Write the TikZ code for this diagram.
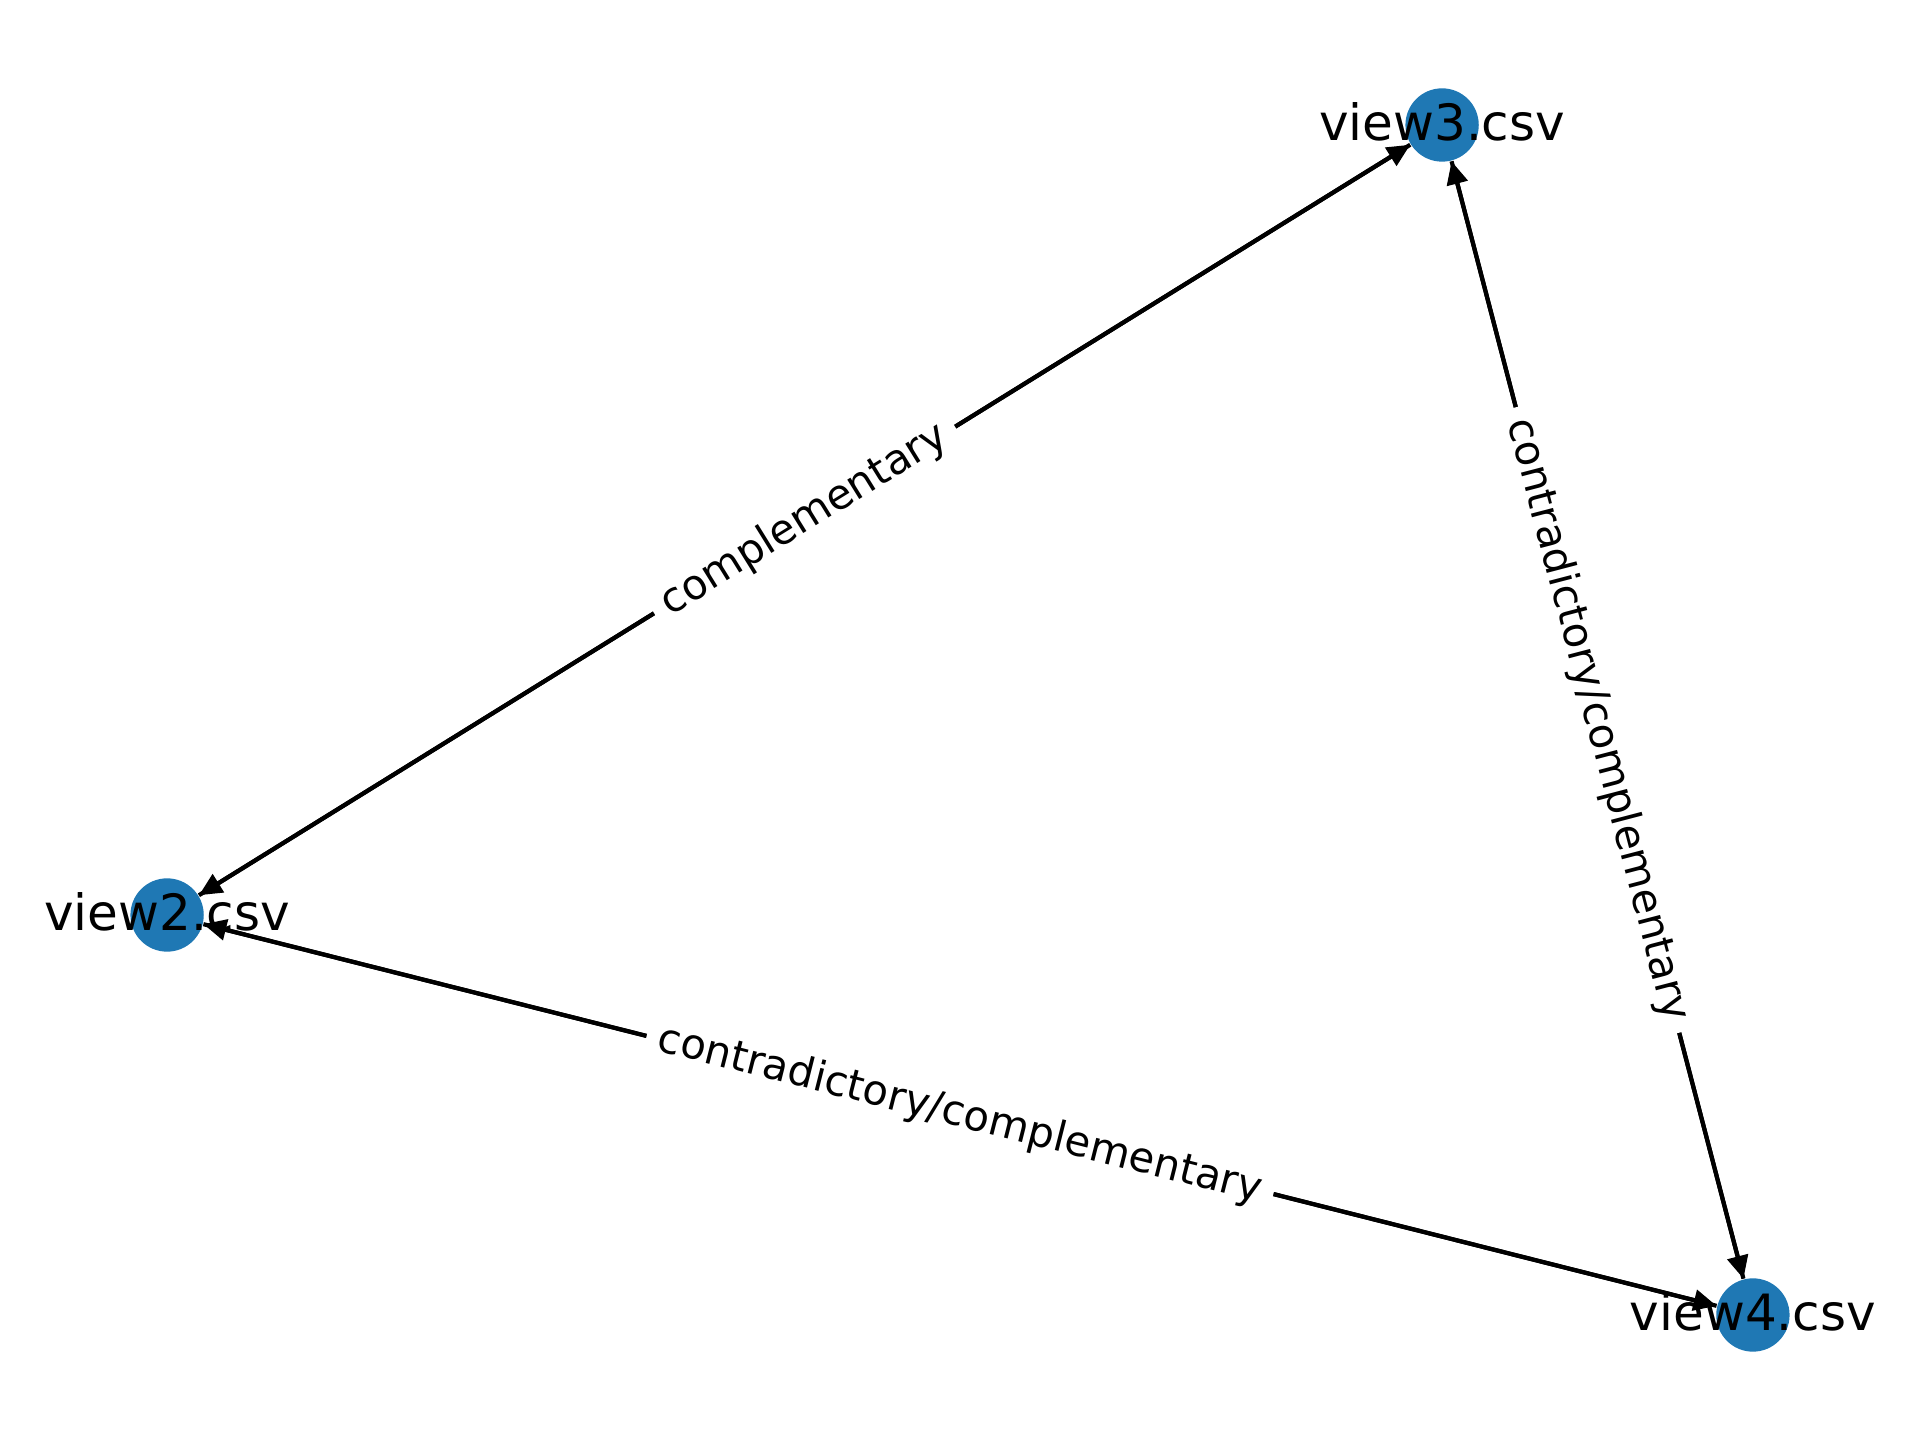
\documentclass[tikz,border=0pt]{standalone}
\usepackage{fontspec}
\setmainfont{DejaVu Sans}
\usetikzlibrary{arrows.meta}
\definecolor{nodeblue}{HTML}{1F78B4}
\begin{document}
\begin{tikzpicture}[x=1pt,y=1pt,
  vert/.style={circle, fill=nodeblue, draw=none, minimum size=17.6pt, inner sep=0pt},
  vlabel/.style={font=\fontsize{12}{14}\selectfont, inner sep=0pt, yshift=0.8pt},
  conn/.style={line width=1pt, -{Triangle[length=5.5pt,width=5pt]}},
  elabel/.style={font=\fontsize{10}{12}\selectfont, fill=white, inner sep=3pt, rounded corners=3pt, sloped, midway}]
\useasboundingbox (0,0) rectangle (460.8,345.6);
\node[vert] (v3) at (346.1,315.6) {};
\node[vert] (v2) at (40.1,126.0) {};
\node[vert] (v4) at (420.7,30.0) {};
\draw[conn] (v2) -- (v3);
\draw[conn] (v3) -- (v2) node[elabel] {complementary};
\draw[conn] (v3) -- (v4);
\draw[conn] (v4) -- (v3) node[elabel] {contradictory/complementary};
\draw[conn] (v2) -- (v4);
\draw[conn] (v4) -- (v2) node[elabel] {contradictory/complementary};
\node[vlabel] (l3) at (v3) {view3.csv};
\node[vlabel] (l2) at (v2) {view2.csv};
\node[vlabel] (l4) at (v4) {view4.csv};
\end{tikzpicture}
\end{document}
